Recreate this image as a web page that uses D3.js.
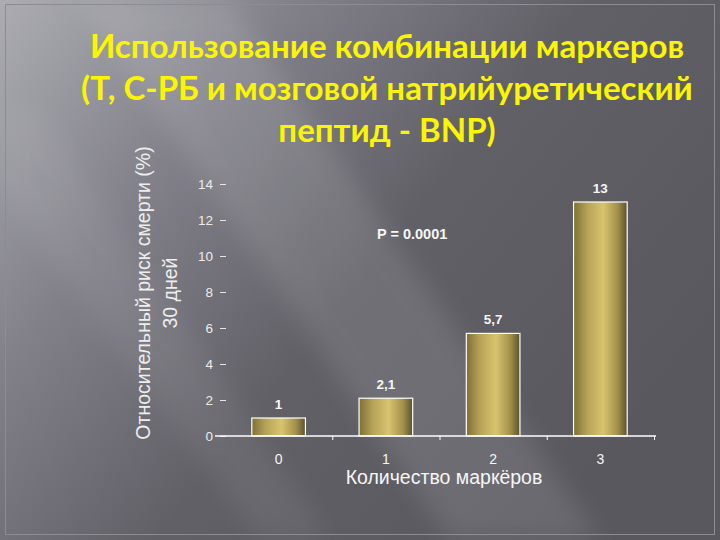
<!DOCTYPE html>
<html>
<head>
<meta charset="utf-8">
<script src="https://cdn.jsdelivr.net/npm/d3@7"></script>
<style>
  body { margin: 0; background: #5b5a61; }
  svg { display: block; }
</style>
</head>
<body>
<div id="chart"></div>
<script>
// data
const markers = ["0", "1", "2", "3"];
const risk = [1, 2.1, 5.7, 13];
const riskLabels = ["1", "2,1", "5,7", "13"];
const yTicks = [0, 2, 4, 6, 8, 10, 12, 14];
const titleLines = [
    "Использование комбинации маркеров",
    "(Т, С-РБ и мозговой натрийуретический",
    "пептид - BNP)"
];
const yTitleLines = ["Относительный риск смерти (%)", "30 дней"];
const xTitle = "Количество маркёров";
const pNote = "P = 0.0001";

const width = 720;
const height = 540;
const plotLeft = 225;
const plotRight = 654;
const baseY = 436;

const svg = d3.select("#chart")
    .append("svg")
    .attr("width", width)
    .attr("height", height)
    .attr("viewBox", [0, 0, width, height]);

const defs = svg.append("defs");

// background gradient, lighter in the top left
const bg = defs.append("linearGradient")
    .attr("id", "bg")
    .attr("x1", "0%").attr("y1", "0%")
    .attr("x2", "100%").attr("y2", "60%");
bg.append("stop").attr("offset", "0%").attr("stop-color", "#acacb2");
bg.append("stop").attr("offset", "30%").attr("stop-color", "#82818a");
bg.append("stop").attr("offset", "60%").attr("stop-color", "#616067");
bg.append("stop").attr("offset", "100%").attr("stop-color", "#59585f");

defs.append("filter").attr("id", "blur")
    .append("feGaussianBlur").attr("stdDeviation", 12);

// gold gradient for bars
const gold = defs.append("linearGradient")
    .attr("id", "gold")
    .attr("x1", "0%").attr("y1", "0%")
    .attr("x2", "100%").attr("y2", "0%");
gold.append("stop").attr("offset", "0%").attr("stop-color", "#7d7037");
gold.append("stop").attr("offset", "25%").attr("stop-color", "#b5a257");
gold.append("stop").attr("offset", "55%").attr("stop-color", "#d8c46e");
gold.append("stop").attr("offset", "82%").attr("stop-color", "#a3904c");
gold.append("stop").attr("offset", "100%").attr("stop-color", "#5a522f");

svg.append("rect")
    .attr("width", width)
    .attr("height", height)
    .attr("fill", "url(#bg)");

// soft diagonal light streaks
svg.append("path")
    .attr("d", "M80,0 L230,0 L600,540 L450,540 Z")
    .attr("fill", "#ffffff")
    .attr("opacity", 0.1)
    .attr("filter", "url(#blur)");
svg.append("path")
    .attr("d", "M0,110 L40,110 L330,540 L260,540 L0,190 Z")
    .attr("fill", "#ffffff")
    .attr("opacity", 0.06)
    .attr("filter", "url(#blur)");

// thin frame near the edges
svg.append("rect")
    .attr("x", 5.5).attr("y", 4.5)
    .attr("width", width - 11).attr("height", height - 10)
    .attr("fill", "none")
    .attr("stroke", "#8d8c92")
    .attr("stroke-width", 1);

// title
svg.append("g")
    .selectAll("text")
    .data(titleLines)
    .join("text")
    .attr("x", 387)
    .attr("y", (d, i) => 58 + i * 42)
    .attr("text-anchor", "middle")
    .attr("font-family", "Lato, 'Open Sans', sans-serif")
    .attr("font-weight", "bold")
    .attr("font-size", 33)
    .attr("fill", "#fbf500")
    .text(d => d);

// scales
const x = d3.scaleBand(markers, [plotLeft, plotRight]).paddingInner(0.5).paddingOuter(0.25);
const xEdge = d3.scaleLinear([0, 4], [plotLeft, plotRight]);
const y = d3.scaleLinear([0, 14], [baseY, baseY - 14 * 18]);

const font = "'Liberation Sans', Arial, sans-serif";

// y axis: short dashes, no domain line
svg.append("g")
    .attr("transform", `translate(226,0)`)
    .call(d3.axisLeft(y).tickValues(yTicks).tickSize(6).tickPadding(7))
    .call(g => g.select(".domain").remove())
    .call(g => g.selectAll(".tick line").attr("stroke", "#e6e6e6"))
    .call(g => g.selectAll(".tick text")
        .attr("fill", "#ececec")
        .attr("font-family", font)
        .attr("font-size", 13.5));

// bars
svg.append("g")
    .selectAll("rect")
    .data(risk)
    .join("rect")
    .attr("x", (d, i) => x(markers[i]))
    .attr("y", d => y(d))
    .attr("width", x.bandwidth())
    .attr("height", d => y(0) - y(d))
    .attr("fill", "url(#gold)")
    .attr("stroke", "#ffffff")
    .attr("stroke-width", 1.2);

// value labels
svg.append("g")
    .selectAll("text")
    .data(risk)
    .join("text")
    .attr("x", (d, i) => x(markers[i]) + x.bandwidth() / 2)
    .attr("y", d => y(d) - 9)
    .attr("text-anchor", "middle")
    .attr("font-family", font)
    .attr("font-weight", "bold")
    .attr("font-size", 13.5)
    .attr("fill", "#f6f6f6")
    .text((d, i) => riskLabels[i]);

// x axis: line from left of y ticks, ticks at band edges
svg.append("g")
    .attr("transform", `translate(0,${baseY})`)
    .call(d3.axisBottom(xEdge).tickValues([1, 2, 3, 4]).tickSize(4).tickFormat(""))
    .call(g => g.select(".domain").remove())
    .call(g => g.selectAll(".tick line").attr("stroke", "#ffffff"))
    .call(g => g.append("line")
        .attr("x1", 215).attr("x2", 656)
        .attr("stroke", "#ffffff")
        .attr("stroke-width", 1.5));

svg.append("g")
    .selectAll("text")
    .data(markers)
    .join("text")
    .attr("x", d => x(d) + x.bandwidth() / 2)
    .attr("y", 464)
    .attr("text-anchor", "middle")
    .attr("font-family", font)
    .attr("font-size", 14)
    .attr("fill", "#f6f6f6")
    .text(d => d);

svg.append("text")
    .attr("x", 444)
    .attr("y", 484)
    .attr("text-anchor", "middle")
    .attr("font-family", font)
    .attr("font-size", 19.5)
    .attr("fill", "#f6f6f6")
    .text(xTitle);

// y title, two rotated lines
svg.append("g")
    .attr("transform", "translate(0,293) rotate(-90)")
    .selectAll("text")
    .data(yTitleLines)
    .join("text")
    .attr("x", 0)
    .attr("y", (d, i) => 150 + i * 27)
    .attr("text-anchor", "middle")
    .attr("font-family", font)
    .attr("font-size", 19.5)
    .attr("fill", "#eeeeee")
    .text(d => d);

svg.append("text")
    .attr("x", 377)
    .attr("y", 239)
    .attr("font-family", font)
    .attr("font-weight", "bold")
    .attr("font-size", 14.5)
    .attr("fill", "#f6f6f6")
    .text(pNote);
</script>
</body>
</html>
